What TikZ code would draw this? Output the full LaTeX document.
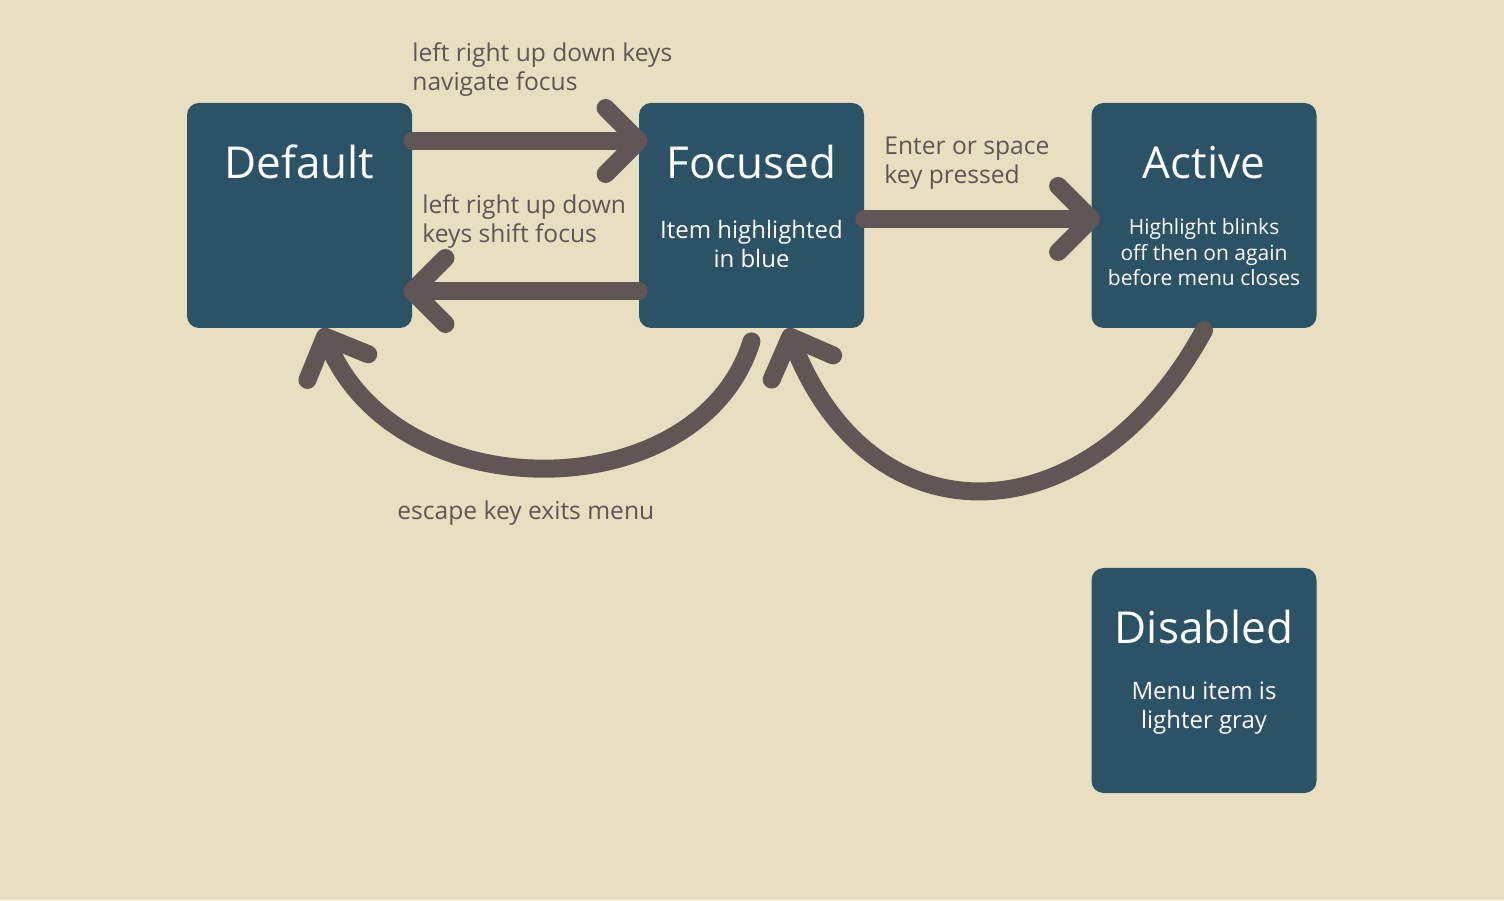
\documentclass[tikz,border=0pt]{standalone}
\usepackage{fontspec}
\setmainfont{Open Sans}
\usepackage{tikz}
\usetikzlibrary{positioning,arrows.meta}
\definecolor{sandbg}{HTML}{E8DFC0}
\definecolor{boxblue}{HTML}{2C5266}
\definecolor{arrowgray}{HTML}{605656}
\definecolor{labelgray}{HTML}{5E5656}

\begin{document}
\begin{tikzpicture}[x=0.5pt,y=0.5pt,
        statebox/.style={fill=boxblue, rounded corners=6pt, minimum width=112.5pt, minimum height=112.5pt, inner sep=0pt},
        statetitle/.style={text=white, anchor=base, inner sep=0pt, font=\fontsize{22}{26}\selectfont},
        desc/.style={text=white, anchor=north, align=center, inner sep=0pt, font=\fontsize{12}{14.5}\selectfont},
        lbl/.style={text=labelgray, anchor=north west, align=left, inner sep=0pt, font=\fontsize{12.3}{14.5}\selectfont},
        trans/.style={draw=arrowgray, line width=9pt, line cap=round,
            -{Straight Barb[length=16.5pt,width=33pt,line join=round,line cap=round]}}]
        \useasboundingbox[fill=sandbg] (0,0) rectangle (1504,900);
        % states
        \node[statebox] (default) at (299.5,684.5) {};
        \node[statebox] (focused) at (751.5,684.5) {};
        \node[statebox] (active) at (1204,684.5) {};
        \node[statebox] (disabled) at (1204,219.5) {};
        \node[statetitle] (defaulttitle) at ([yshift=-38pt]default.north) {Default};
        \node[statetitle] (focusedtitle) at ([yshift=-38pt]focused.north) {Focused};
        \node[statetitle] (activetitle) at ([yshift=-38pt]active.north) {Active};
        \node[statetitle] (disabledtitle) at ([yshift=-38pt]disabled.north) {Disabled};
        \node[desc] (focuseddesc) at ([yshift=-58.5pt]focused.north) {Item highlighted\\in blue};
        \node[desc, font=\fontsize{10.5}{12.75}\selectfont] (activedesc) at ([yshift=-58pt]active.north) {Highlight blinks\\off then on again\\before menu closes};
        \node[desc] (disableddesc) at ([yshift=-57pt]disabled.north) {Menu item is\\lighter gray};
        % transitions
        \draw[trans] ([yshift=37.25pt]default.east) -- ([yshift=37.25pt,xshift=4.5pt]focused.west);
        \draw[trans] ([yshift=-37.75pt]focused.west) -- ([yshift=-37.75pt,xshift=-4.5pt]default.east);
        \draw[trans] ([yshift=-1.75pt]focused.east) -- ([yshift=-1.75pt,xshift=4.5pt]active.west);
        \draw[trans] ([yshift=-6.5pt]focused.south) .. controls (700,392) and (399.5,387) .. ([xshift=11pt]default.south);
        \draw[trans] ([yshift=-1pt]active.south) .. controls (1091,362) and (873,353) .. ([xshift=17.75pt]focused.south);
        % labels
        \node[lbl] (navlabel) at (412,858) {left right up down keys\\navigate focus};
        \node[lbl] (shiftlabel) at (422,706) {left right up down\\keys shift focus};
        \node[lbl] (enterlabel) at (884,763) {Enter or space\\key pressed};
        \node[lbl] (escapelabel) at (397,400) {escape key exits menu};
\end{tikzpicture}
\end{document}
